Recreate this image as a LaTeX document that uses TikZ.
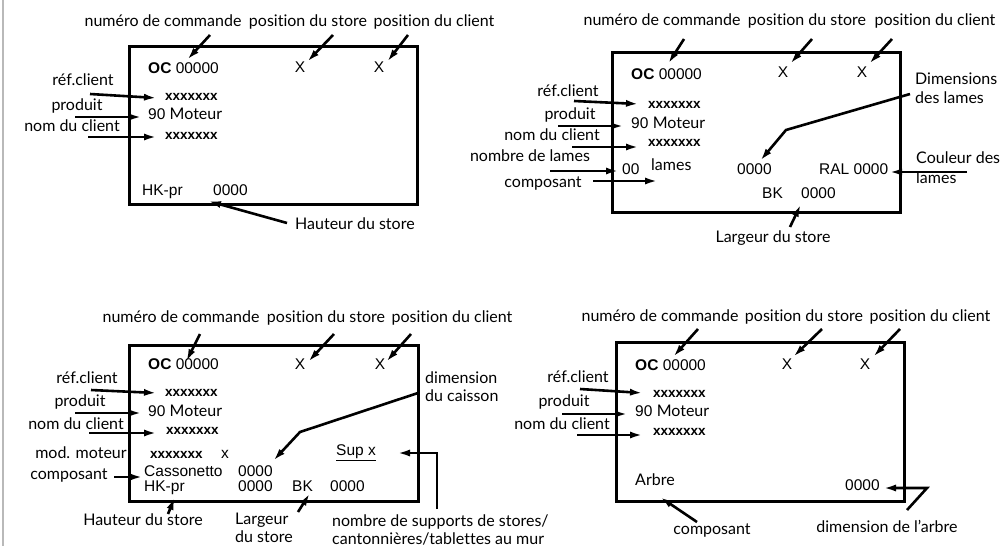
\documentclass[tikz,border=0pt]{standalone}
\usepackage{fontspec}
\newfontfamily\latofam{Lato}[Ligatures={NoCommon,NoRequired}]
\newfontfamily\arialfam{Liberation Sans}
\usetikzlibrary{arrows.meta}

\newcommand\etiqfont{\latofam\fontsize{16}{19}\selectfont}
\newcommand\champfont{\arialfam\fontsize{15.5}{18}\selectfont}
\newcommand\xxx{{\bfseries\fontsize{13.5}{16}\selectfont xxxxxxx}}

\tikzset{
  etiq/.style={font=\etiqfont, inner sep=0pt, anchor=mid},
  etiqg/.style={etiq, anchor=mid west},
  champ/.style={font=\champfont, inner sep=0pt, anchor=mid west},
  croix/.style={font=\champfont, inner sep=0pt, anchor=mid},
  fleche/.style={line width=2.6pt, -{Latex[length=13pt,width=7pt]}},
  cadre/.style={draw, line width=3pt},
}

\begin{document}
\begin{tikzpicture}[x=1pt,y=-1pt]
 \useasboundingbox (0,0) rectangle (1000,546);
 % bord gauche
 \draw[gray!55, line width=2pt] (3,0) -- (3,546);

 % ---- store 1 ----
 \draw[cadre] (129,46) rectangle (417,204);
 \node[etiq] (num1) at (163,24) {numéro de commande};
 \node[etiq] (pos1) at (308,24) {position du store};
 \node[etiq] (cli1) at (434,24) {position du client};
 \node[champ] (oc1) at (148,71) {\textbf{OC} 00000};
 \node[croix] (xs1) at (300,70) {X};
 \node[croix] (xc1) at (379,70) {X};
 \node[etiq] (ref1) at (83,83) {réf.client};
 \node[champ] (vref1) at (165,98) {\xxx};
 \node[etiq] (prod1) at (77,108) {produit};
 \node[champ] (vprod1) at (148,117) {90 {\etiqfont Moteur}};
 \node[etiq] (nom1) at (72,129) {nom du client};
 \node[champ] (vnom1) at (165,137) {\xxx};
 \node[champ] (hk1) at (142,193) {HK-pr};
 \node[champ] (vhk1) at (213,193) {0000};
 \node[etiqg] (haut1) at (295,227) {Hauteur du store};
 \foreach \a/\b/\c/\d [count=\i] in {210/35/187/60, 333/35/307/62, 408/35/387/62,
     90/94/157/98, 75/117/142/117, 88/137/157/137, 287/223/208/201} {
   \coordinate (d1\i) at (\a,\b);
   \coordinate (f1\i) at (\c,\d);
   \draw[fleche] (d1\i) -- (f1\i);
 }

 % ---- store 2 ----
 \draw[cadre] (612,52) rectangle (900,212);
 \node[etiq] (num2) at (662,23) {numéro de commande};
 \node[etiq] (pos2) at (807,23) {position du store};
 \node[etiq] (cli2) at (935,23) {position du client};
 \node[champ] (oc2) at (631,77) {\textbf{OC} 00000};
 \node[croix] (xs2) at (783,75) {X};
 \node[croix] (xc2) at (862,75) {X};
 \node[etiq] (ref2) at (568,94) {réf.client};
 \node[champ] (vref2) at (648,106) {\xxx};
 \node[etiq] (prod2) at (570,117) {produit};
 \node[champ] (vprod2) at (631,126) {90 {\etiqfont Moteur}};
 \node[etiq] (nom2) at (552,138) {nom du client};
 \node[champ] (vnom2) at (648,144) {\xxx};
 \node[etiq] (nbl2) at (530,159) {nombre de lames};
 \node[champ] (vnbl2) at (622,172) {00};
 \node[etiqg] (lam2) at (651,168) {lames};
 \node[etiq] (comp2) at (543,185) {composant};
 \node[etiqg] (diml2) at (915,82) {Dimensions};
 \node[etiqg] (diml2b) at (915,101) {des lames};
 \node[champ] (vdim2) at (737,172) {0000};
 \node[champ] (ral2) at (819,172) {RAL 0000};
 \node[etiqg] (coul2) at (916,161) {Couleur des};
 \node[etiqg] (coul2b) at (916,181) {lames};
 \node[champ] (bk2) at (762,196) {BK};
 \node[champ] (vbk2) at (801,196) {0000};
 \node[etiq] (larg2) at (773,240) {Largeur du store};
 \foreach \a/\b/\c/\d [count=\i] in {684/39/668/64, 812/39/790/64, 892/39/869/64,
     574/101/639/104, 558/126/624/126, 572/147/639/147, 550/171/619/171,
     593/181/658/181, 967/172/889/172, 790/227/801/204} {
   \coordinate (d2\i) at (\a,\b);
   \coordinate (f2\i) at (\c,\d);
   \draw[fleche] (d2\i) -- (f2\i);
 }
 \coordinate (l2a) at (910,94);
 \coordinate (l2b) at (786,130);
 \coordinate (l2c) at (760,161);
 \draw[fleche] (l2a) -- (l2b) -- (l2c);

 % ---- store 3 ----
 \draw[cadre] (129,345) rectangle (418,501);
 \node[etiq] (num3) at (181,320) {numéro de commande};
 \node[etiq] (pos3) at (326,320) {position du store};
 \node[etiq] (cli3) at (452,320) {position du client};
 \node[champ] (oc3) at (148,367) {\textbf{OC} 00000};
 \node[croix] (xs3) at (300,367) {X};
 \node[croix] (xc3) at (380,367) {X};
 \node[etiq] (ref3) at (87,381) {réf.client};
 \node[champ] (vref3) at (165,394) {\xxx};
 \node[etiq] (prod3) at (80,404) {produit};
 \node[champ] (vprod3) at (148,414) {90 {\etiqfont Moteur}};
 \node[etiq] (nom3) at (76,427) {nom du client};
 \node[champ] (vnom3) at (166,432) {\xxx};
 \node[etiq] (mod3) at (81,456) {mod. moteur};
 \node[champ] (vmod3) at (150,456) {\xxx};
 \node[croix] (xmod3) at (225,456) {x};
 \node[etiq] (comp3) at (69,477) {composant};
 \node[champ] (cas3) at (144,474) {Cassonetto};
 \node[champ] (vcas3) at (238,474) {0000};
 \node[champ] (hk3) at (144,489) {HK-pr};
 \node[champ] (vhk3) at (238,489) {0000};
 \node[champ] (bk3) at (292,489) {BK};
 \node[champ] (vbk3) at (330,489) {0000};
 \node[etiqg] (dimc3) at (425,381) {dimension};
 \node[etiqg] (dimc3b) at (425,399) {du caisson};
 \node[champ] (sup3) at (336,453) {\underline{Sup x}};
 \node[etiqg] (nbs3) at (332,524) {nombre de supports de stores/};
 \node[etiqg] (nbs3b) at (332,542) {cantonnières/tablettes au mur};
 \node[etiq] (haut3) at (143,523) {Hauteur du store};
 \node[etiqg] (larg3) at (235,522) {Largeur};
 \node[etiqg] (larg3b) at (235,540) {du store};
 \foreach \a/\b/\c/\d [count=\i] in {200/334/186/362, 334/334/308/362, 411/334/386/362,
     91/390/157/393, 75/413/142/413, 89/433/157/433, 114/477/143/477,
     168/514/175/497, 298/512/310/493} {
   \coordinate (d3\i) at (\a,\b);
   \coordinate (f3\i) at (\c,\d);
   \draw[fleche] (d3\i) -- (f3\i);
 }
 \coordinate (l3a) at (418,393);
 \coordinate (l3b) at (300,432);
 \coordinate (l3c) at (273,461);
 \draw[fleche] (l3a) -- (l3b) -- (l3c);
 \coordinate (s3a) at (437,509);
 \coordinate (s3b) at (437,453);
 \coordinate (s3c) at (397,453);
 \draw[fleche] (s3a) -- (s3b) -- (s3c);

 % ---- store 4 ----
 \draw[cadre] (616,342) rectangle (904,501);
 \node[etiq] (num4) at (660,319) {numéro de commande};
 \node[etiq] (pos4) at (804,319) {position du store};
 \node[etiq] (cli4) at (930,319) {position du client};
 \node[champ] (oc4) at (635,368) {\textbf{OC} 00000};
 \node[croix] (xs4) at (787,367) {X};
 \node[croix] (xc4) at (865,367) {X};
 \node[etiq] (ref4) at (578,380) {réf.client};
 \node[champ] (vref4) at (653,395) {\xxx};
 \node[etiq] (prod4) at (564,404) {produit};
 \node[champ] (vprod4) at (635,414) {90 {\etiqfont Moteur}};
 \node[etiq] (nom4) at (562,427) {nom du client};
 \node[champ] (vnom4) at (653,433) {\xxx};
 \node[etiqg] (arb4) at (635,483) {Arbre};
 \node[champ] (varb4) at (845,488) {0000};
 \node[etiq] (dima4) at (887,530) {dimension de l’arbre};
 \node[etiq] (comp4) at (712,532) {composant};
 \foreach \a/\b/\c/\d [count=\i] in {698/329/673/357, 822/329/793/357, 900/329/873/357,
     580/389/643/393, 562/414/628/414, 577/435/643/435, 697/522/660/497} {
   \coordinate (d4\i) at (\a,\b);
   \coordinate (f4\i) at (\c,\d);
   \draw[fleche] (d4\i) -- (f4\i);
 }
 \coordinate (a4a) at (907,510);
 \coordinate (a4b) at (927,488);
 \coordinate (a4c) at (883,488);
 \draw[fleche] (a4a) -- (a4b) -- (a4c);
\end{tikzpicture}
\end{document}
